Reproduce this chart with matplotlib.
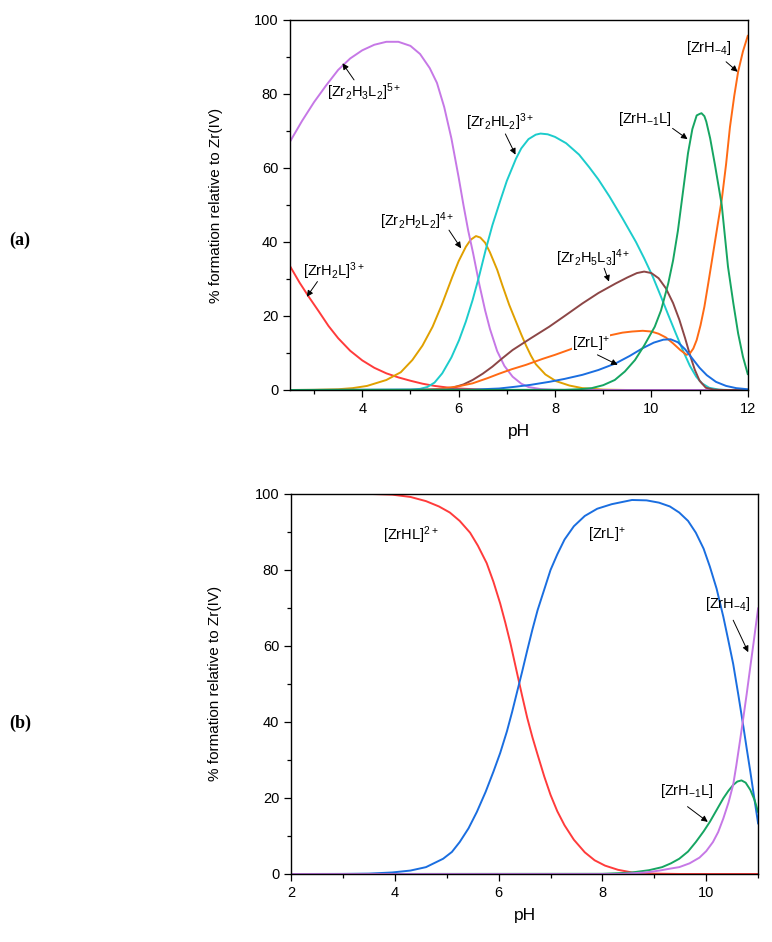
import matplotlib
matplotlib.use("Agg")
import matplotlib.pyplot as plt
from matplotlib.ticker import MultipleLocator

plt.rcParams['font.family'] = ['Liberation Sans', 'DejaVu Sans']
plt.rcParams['mathtext.fontset'] = 'custom'
plt.rcParams['mathtext.rm'] = 'Liberation Sans'
plt.rcParams['mathtext.it'] = 'Liberation Sans'
plt.rcParams['mathtext.bf'] = 'Liberation Sans:bold'

# ---------- panel (a) data (pH, % formation) ----------
a_red_x = [2.5, 2.7, 2.9, 3.1, 3.3, 3.5, 3.75, 4.0, 4.25, 4.5, 4.75, 5.0, 5.25, 5.5,
           5.75, 6.0, 6.5, 7.0, 12]
a_red_y = [33.5, 29.0, 25.0, 21.2, 17.3, 14.0, 10.6, 8.0, 6.0, 4.5, 3.4, 2.5, 1.7, 1.1,
           0.7, 0.4, 0.1, 0, 0]

a_purple_x = [2.5, 2.75, 3.0, 3.25, 3.5, 3.75, 4.0, 4.25, 4.5, 4.75, 5.0, 5.2, 5.4, 5.55,
              5.7, 5.85, 6.0, 6.1, 6.2, 6.3, 6.43, 6.55, 6.65, 6.8, 6.95, 7.12, 7.3,
              7.45, 7.7, 8.0, 8.5, 12]
a_purple_y = [67.1, 72.7, 77.8, 82.3, 86.5, 89.6, 91.8, 93.3, 94.1, 94.1, 93.0, 90.8, 87.0,
              83.0, 76.5, 68.0, 57.5, 50.0, 43.0, 37.0, 28.5, 21.5, 16.5, 10.5, 6.5, 3.6,
              1.7, 0.8, 0.25, 0.05, 0, 0]

a_cyan_x = [2.5, 5.0, 5.2, 5.35, 5.5, 5.66, 5.85, 6.01, 6.15, 6.29, 6.43, 6.56, 6.7, 6.86,
            7.0, 7.19, 7.3, 7.45, 7.6, 7.7, 7.85, 8.0, 8.23, 8.5, 8.71, 8.9, 9.13, 9.4,
            9.68, 9.85, 10.03, 10.2, 10.35, 10.5, 10.65, 10.8, 10.93, 11.05, 11.2, 11.4,
            11.6, 12]
a_cyan_y = [0, 0.1, 0.3, 0.8, 2.0, 4.5, 8.8, 13.5, 18.5, 24.3, 31.0, 37.8, 44.5, 51.0,
            56.5, 62.5, 65.3, 67.8, 69.0, 69.3, 69.1, 68.4, 66.7, 63.6, 60.2, 56.9, 52.3,
            46.4, 40.0, 35.6, 30.6, 25.2, 20.3, 15.5, 10.8, 6.5, 3.6, 1.8, 0.6, 0.1,
            0, 0]

a_yellow_x = [2.5, 3.0, 3.5, 3.8, 4.1, 4.5, 4.8, 5.04, 5.25, 5.46, 5.65, 5.87, 6.0, 6.15,
              6.25, 6.36, 6.45, 6.55, 6.65, 6.8, 6.91, 7.05, 7.19, 7.3, 7.4, 7.5, 7.6,
              7.8, 8.02, 8.3, 8.57, 9.0, 9.5, 12]
a_yellow_y = [0, 0.05, 0.2, 0.5, 1.1, 2.7, 4.8, 8.1, 12.0, 17.1, 23.0, 30.6, 34.8, 38.7,
              40.6, 41.6, 41.2, 39.8, 37.2, 32.5, 28.2, 23.0, 18.5, 15.0, 12.0, 9.3, 7.0,
              4.2, 2.4, 1.2, 0.5, 0.1, 0, 0]

a_brown_x = [2.5, 5.3, 5.6, 5.87, 6.1, 6.29, 6.5, 6.7, 6.9, 7.12, 7.5, 7.88, 8.2, 8.57,
             8.9, 9.26, 9.5, 9.7, 9.85, 10.0, 10.15, 10.3, 10.45, 10.58, 10.7, 10.8,
             10.9, 11.0, 11.13, 11.3, 11.5, 12]
a_brown_y = [0, 0.05, 0.2, 0.6, 1.5, 2.7, 4.4, 6.3, 8.5, 10.8, 14.0, 17.1, 20.0, 23.4,
             26.2, 28.8, 30.4, 31.6, 32.0, 31.6, 30.2, 27.5, 23.5, 19.0, 14.0, 9.5,
             5.5, 2.5, 0.6, 0.1, 0, 0]

a_orange_x = [2.5, 5.2, 5.5, 5.73, 6.0, 6.29, 6.6, 6.84, 7.1, 7.4, 7.74, 8.0, 8.3, 8.6,
              8.92, 9.15, 9.4, 9.6, 9.82, 10.0, 10.15, 10.3, 10.45, 10.6, 10.73, 10.8,
              10.87, 10.94, 11.02, 11.1, 11.18, 11.3, 11.38, 11.46, 11.55, 11.63, 11.72,
              11.8, 11.9, 12]
a_orange_y = [0, 0, 0.2, 0.5, 1.0, 1.8, 3.2, 4.4, 5.6, 6.8, 8.4, 9.5, 10.9, 12.4,
              14.0, 14.8, 15.5, 15.8, 16.0, 15.8, 15.2, 14.2, 12.6, 10.8, 9.5, 9.9,
              11.2, 13.5, 17.5, 22.5, 28.8, 38.5, 45.0, 51.4, 61.0, 71.0, 79.5,
              86.0, 91.5, 95.7]

a_blue_x = [2.5, 6.3, 6.84, 7.19, 7.5, 7.88, 8.2, 8.57, 8.9, 9.26, 9.55, 9.82, 10.05,
            10.25, 10.4, 10.55, 10.7, 10.85, 11.0, 11.15, 11.34, 11.55, 11.76, 12]
a_blue_y = [0, 0.1, 0.4, 0.9, 1.4, 2.2, 3.0, 4.1, 5.4, 7.2, 9.2, 11.3, 12.8,
            13.6, 13.7, 12.9, 11.0, 8.5, 6.0, 4.0, 2.2, 1.1, 0.5, 0.2]

a_green_x = [2.5, 8.2, 8.5, 8.76, 9.0, 9.24, 9.45, 9.66, 9.85, 10.07, 10.2, 10.35, 10.45,
             10.55, 10.65, 10.76, 10.85, 10.94, 11.0, 11.04, 11.1, 11.14, 11.22, 11.32,
             11.46, 11.59, 11.7, 11.8, 11.9, 12]
a_green_y = [0, 0.05, 0.2, 0.5, 1.3, 2.7, 5.0, 8.1, 12.0, 17.1, 21.5, 28.8, 35.0,
             43.0, 53.0, 64.0, 70.5, 74.2, 74.6, 74.8, 74.0, 72.5, 68.0, 60.8,
             50.0, 33.3, 23.5, 15.3, 9.0, 4.3]

# ---------- panel (b) data ----------
b_red_x = [2, 3.5, 3.95, 4.3, 4.6, 4.85, 5.06, 5.25, 5.45, 5.6, 5.77, 5.9, 6.03, 6.13,
           6.23, 6.36, 6.45, 6.55, 6.65, 6.75, 6.88, 7.0, 7.13, 7.27, 7.45, 7.66, 7.85,
           8.05, 8.3, 8.57, 9.0, 9.5, 11]
b_red_y = [100, 99.9, 99.7, 99.1, 98, 96.6, 95, 92.8, 89.7, 86.3, 81.7, 76.8, 71.1, 66.0,
           60.5, 52.5, 47.0, 41.1, 36.0, 31.4, 25.6, 20.8, 16.5, 12.8, 9.0, 5.7, 3.6,
           2.2, 1.1, 0.4, 0.1, 0, 0]

b_blue_x = [2, 3.0, 3.5, 3.95, 4.3, 4.6, 4.93, 5.1, 5.25, 5.42, 5.58, 5.75, 5.9, 6.03,
            6.16, 6.26, 6.36, 6.45, 6.55, 6.65, 6.75, 6.88, 7.0, 7.13, 7.27, 7.45, 7.66,
            7.9, 8.18, 8.57, 8.85, 9.09, 9.3, 9.48, 9.65, 9.8, 9.95, 10.07, 10.2, 10.33,
            10.42, 10.52, 10.62, 10.72, 10.78, 10.85, 10.92, 11.0]
b_blue_y = [0, 0.02, 0.1, 0.4, 0.9, 1.8, 4.0, 5.8, 8.4, 12.0, 16.3, 21.6, 26.9, 31.8,
            37.5, 42.6, 48.1, 53.0, 58.7, 64.2, 69.3, 74.8, 79.9, 84.0, 87.9, 91.4, 94.1,
            96.0, 97.2, 98.3, 98.2, 97.6, 96.6, 95.0, 92.8, 89.7, 85.5, 80.8, 75.0, 67.6,
            61.8, 55.2, 47.0, 38.4, 33.0, 26.9, 20.5, 13.3]

b_green_x = [2, 8.0, 8.3, 8.57, 8.9, 9.15, 9.32, 9.48, 9.65, 9.8, 9.95, 10.07, 10.2,
             10.33, 10.43, 10.52, 10.6, 10.68, 10.76, 10.85, 10.93, 11.0]
b_green_y = [0, 0.05, 0.2, 0.4, 1.0, 1.8, 2.8, 4.0, 5.9, 8.4, 11.2, 13.7, 16.8,
             19.9, 21.9, 23.4, 24.3, 24.6, 24.0, 22.1, 19.5, 16.3]

b_purple_x = [2, 8.3, 8.6, 8.83, 9.1, 9.3, 9.48, 9.68, 9.87, 10.0, 10.13, 10.23, 10.33,
              10.43, 10.52, 10.58, 10.65, 10.72, 10.78, 10.85, 10.91, 11.0]
b_purple_y = [0, 0, 0.2, 0.4, 0.9, 1.4, 1.8, 2.8, 4.3, 6.0, 8.4, 11.0, 14.6,
              18.8, 23.5, 28.5, 34.9, 41.5, 47.3, 54.5, 60.5, 69.8]

b_other_x = [2, 11]
b_other_y = [0, 0]

RED = '#ff3b3b'
PURPLE = '#c678e6'
CYAN = '#1ccccc'
YELLOW = '#e0a000'
BROWN = '#8c4646'
ORANGE = '#ff6a14'
BLUE = '#1a6ee0'
GREEN = '#16a562'
LW = 1.4

fig = plt.figure(figsize=(7.72, 9.42), dpi=100)
ax1 = fig.add_axes([0.3756, 0.586, 0.593, 0.3928])
ax2 = fig.add_axes([0.377, 0.0722, 0.605, 0.4039])

ax1.plot(a_red_x, a_red_y, color=RED, lw=LW)
ax1.plot(a_yellow_x, a_yellow_y, color=YELLOW, lw=LW)
ax1.plot(a_purple_x, a_purple_y, color=PURPLE, lw=LW)
ax1.plot(a_cyan_x, a_cyan_y, color=CYAN, lw=LW)
ax1.plot(a_brown_x, a_brown_y, color=BROWN, lw=LW)
ax1.plot(a_orange_x, a_orange_y, color=ORANGE, lw=LW)
ax1.plot(a_blue_x, a_blue_y, color=BLUE, lw=LW)
ax1.plot(a_green_x, a_green_y, color=GREEN, lw=LW)

ax2.plot(b_other_x, b_other_y, color='#5bb8e0', lw=LW)
ax2.plot(b_red_x, b_red_y, color=RED, lw=LW)
ax2.plot(b_blue_x, b_blue_y, color=BLUE, lw=LW)
ax2.plot(b_green_x, b_green_y, color=GREEN, lw=LW)
ax2.plot(b_purple_x, b_purple_y, color=PURPLE, lw=LW)

ax1.set_xlim(2.5, 12)
ax2.set_xlim(2, 11)
for ax in (ax1, ax2):
    ax.set_ylim(0, 100)
    ax.xaxis.set_major_locator(MultipleLocator(2))
    ax.xaxis.set_minor_locator(MultipleLocator(1))
    ax.yaxis.set_major_locator(MultipleLocator(20))
    ax.yaxis.set_minor_locator(MultipleLocator(10))
    ax.tick_params(which='major', direction='out', length=5, width=0.9, labelsize=10.5)
    ax.tick_params(which='minor', direction='out', length=3, width=0.9)
    for s in ax.spines.values():
        s.set_linewidth(1.0)
    ax.set_xlabel('pH', fontsize=12.5, labelpad=6)
    ax.set_ylabel('% formation relative to Zr(IV)', fontsize=11)
ax1.yaxis.set_label_coords(-0.146, 0.5)
ax2.yaxis.set_label_coords(-0.148, 0.5)

FS = 10.5
arrow = dict(arrowstyle='-|>', color='black', lw=0.7, mutation_scale=9, shrinkA=0, shrinkB=0)


def label(ax, txt, tx, ty, tail=None, head=None, **kw):
    ax.text(tx, ty, txt, fontsize=FS, ha='center', va='center', **kw)
    if tail is not None:
        ax.annotate('', xy=head, xytext=tail, arrowprops=arrow)


label(ax1, r'[Zr$_2$H$_3$L$_2$]$^{5+}$', 4.05, 80.5, (3.83, 83.8), (3.59, 88.3))
label(ax1, r'[Zr$_2$HL$_2$]$^{3+}$', 6.85, 72.3, (6.97, 69.2), (7.18, 63.6))
label(ax1, r'[Zr$_2$H$_2$L$_2$]$^{4+}$', 5.15, 45.5, (5.8, 43.2), (6.05, 38.3))
label(ax1, r'[ZrH$_2$L]$^{3+}$', 3.42, 32.2, (3.07, 29.3), (2.85, 25.2))
label(ax1, r'[Zr$_2$H$_5$L$_3$]$^{4+}$', 8.8, 35.5, (9.02, 32.9), (9.12, 29.3))
label(ax1, r'[ZrL]$^{+}$', 8.75, 12.4, (8.88, 9.5), (9.3, 6.8),
      bbox=dict(fc='white', ec='none', pad=0.3))
label(ax1, r'[ZrH$_{-1}$L]', 9.87, 73.2, (10.44, 70.7), (10.75, 67.8))
label(ax1, r'[ZrH$_{-4}$]', 11.2, 92.5, (11.55, 88.7), (11.79, 86.0))

label(ax2, r'[ZrHL]$^{2+}$', 4.3, 89)
label(ax2, r'[ZrL]$^{+}$', 8.08, 89)
label(ax2, r'[ZrH$_{-4}$]', 10.42, 71.0, (10.52, 66.7), (10.81, 58.3))
label(ax2, r'[ZrH$_{-1}$L]', 9.63, 21.9, (9.64, 17.7), (10.03, 13.7))

fig.text(0.026, 0.745, '(a)', fontsize=13, fontweight='bold', family='Liberation Serif',
         ha='center', va='center')
fig.text(0.026, 0.232, '(b)', fontsize=13, fontweight='bold', family='Liberation Serif',
         ha='center', va='center')

fig.savefig('out.png', dpi=100)
